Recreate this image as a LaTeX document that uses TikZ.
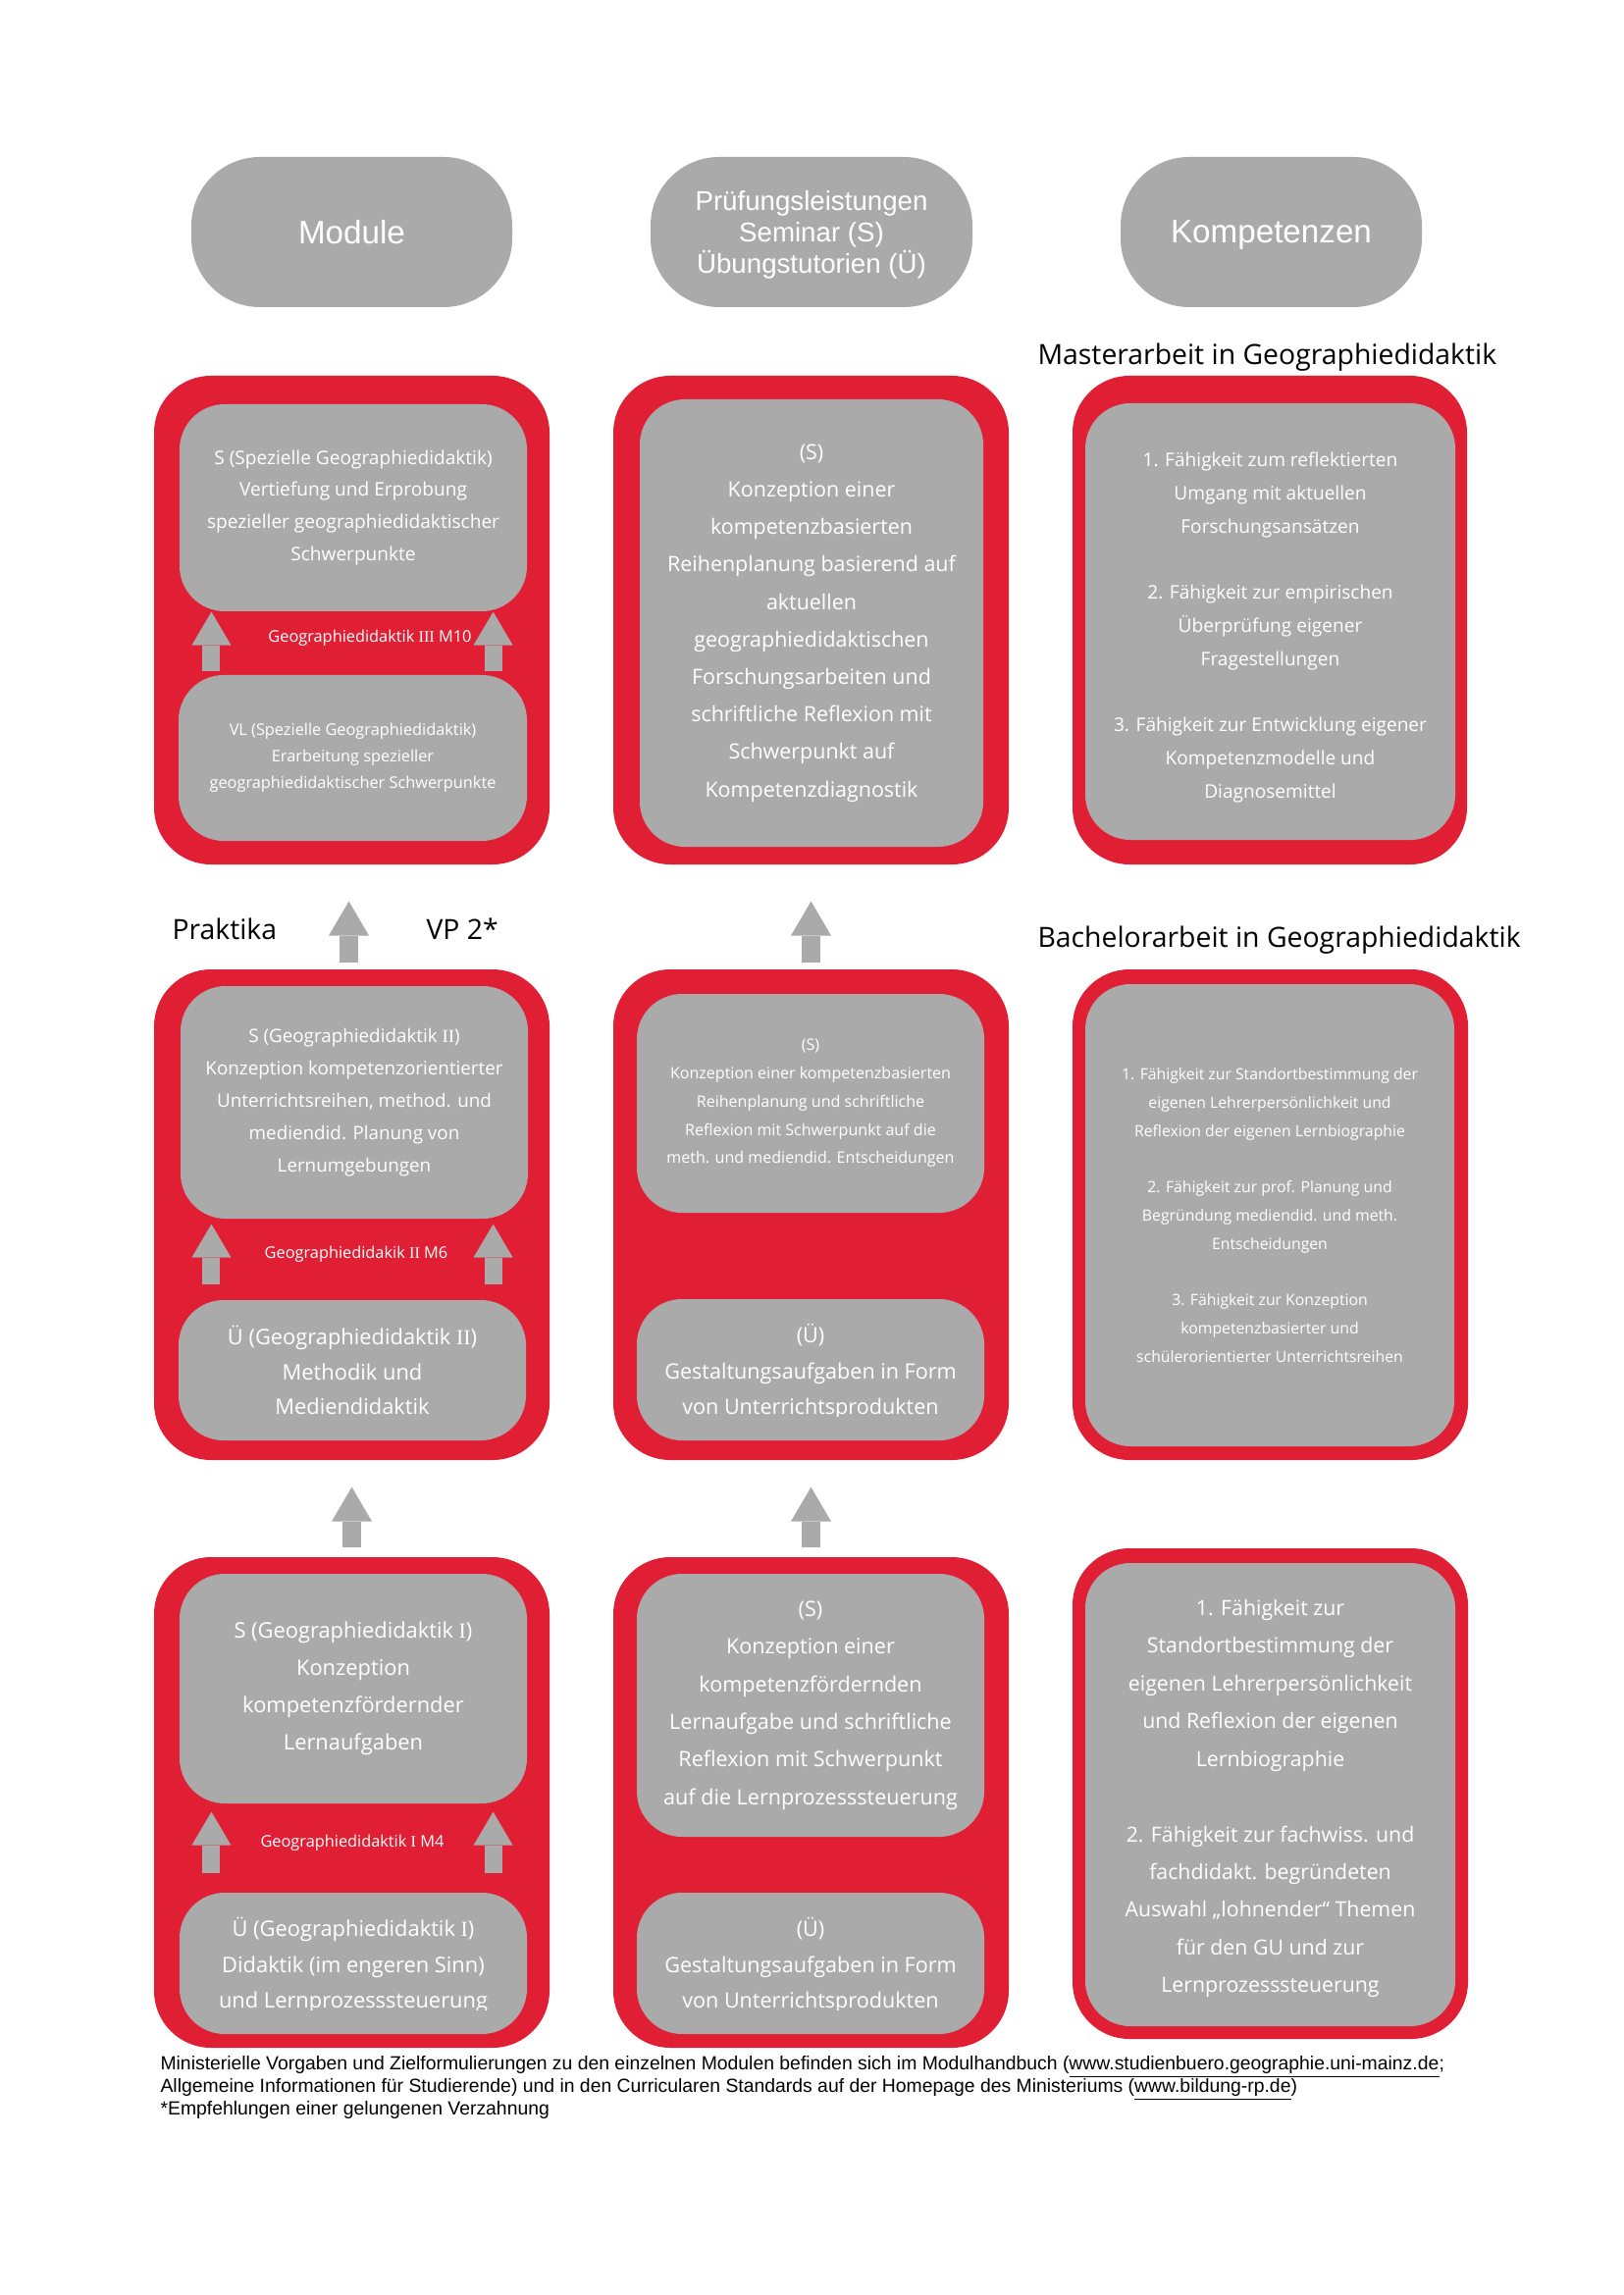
\documentclass[tikz,border=0pt]{standalone}
\usepackage{fontspec}
\setmainfont{Open Sans}
\newfontfamily\arialfont{Liberation Sans}
\newfontfamily\rnfont{Liberation Serif}
\usetikzlibrary{arrows.meta,calc}
\definecolor{boxred}{RGB}{225,31,52}
\definecolor{boxgray}{RGB}{170,170,170}
\newdimen\pxu
\pxu=0.127mm
\newcommand\rn[1]{{\rnfont #1}}
\newcommand\fsz[2]{\fontsize{#1}{#2}\selectfont}
\tikzset{
  headbox/.style 2 args={fill=boxgray, rounded corners=70\pxu, minimum width=#1\pxu, minimum height=#2\pxu, inner sep=0pt, text depth=0pt, text=white, align=center, font=\arialfont\fsz{12}{14}},
  redbox/.style 2 args={fill=boxred, rounded corners=58\pxu, minimum width=#1\pxu, minimum height=#2\pxu, inner sep=0pt},
  graybox/.style 2 args={fill=boxgray, rounded corners=46\pxu, minimum width=#1\pxu, minimum height=#2\pxu, inner sep=0pt, text=white, align=center},
  boxtext/.style={inner sep=0pt, text=white, align=center},
  heading/.style={inner sep=0pt, text=black, font=\fsz{10.25}{12}},
  modlabel/.style={inner sep=0pt, text=white, font=\fsz{5.9}{7}},
  footline/.style={inner sep=0pt, anchor=base west, text=black, font=\arialfont\fsz{7}{8.2}},
  smallarrow/.style={draw=boxgray, line width=6.5pt, -{Triangle[width=14.46pt,length=12.29pt,line width=0pt]}},
  bigarrow/.style={draw=boxgray, line width=6.87pt, -{Triangle[width=14.82pt,length=12.65pt,line width=0pt]}},
}
\begin{document}
\begin{tikzpicture}[x=0.127mm,y=-0.127mm]
\fill[white] (0,0) rectangle (1654,2339);
\useasboundingbox (0,0) rectangle (1654,2339);

% headers
\node[headbox={327}{153}] (hmod) at (358.5,236.5) {Module};
\node[headbox={328}{153}, font=\arialfont\fsz{10}{11.5}] (hpruef) at (827,236.5) {Prüfungsleistungen\\Seminar (S)\\Übungstutorien (Ü)};
\node[headbox={307}{153}] (hkomp) at (1295.5,236.5) {Kompetenzen};

% headings
\node[heading, anchor=base west] (tmaster) at (1057,372) {Masterarbeit in Geographiedidaktik};
\node[heading, anchor=base west] (tbachelor) at (1057,965) {Bachelorarbeit in Geographiedidaktik};
\node[heading, anchor=base west] (prak) at (175,957) {Praktika};
\node[heading, anchor=base west] (vp) at (434,957) {VP 2*};

% red boxes
\node[redbox={403}{498}] (r1c1) at (358.5,632) {};
\node[redbox={403}{498}] (r1c2) at (826.5,632) {};
\node[redbox={402}{498}] (r1c3) at (1294,632) {};
\node[redbox={403}{500}] (r2c1) at (358.5,1238) {};
\node[redbox={403}{500}] (r2c2) at (826.5,1238) {};
\node[redbox={403}{500}] (r2c3) at (1294.5,1238) {};
\node[redbox={403}{500}] (r3c1) at (358.5,1837) {};
\node[redbox={403}{500}] (r3c2) at (826.5,1837) {};
\node[redbox={403}{500}] (r3c3) at (1294.5,1828) {};

% row 1
\node[graybox={354}{211}, font=\fsz{6.9}{11.9}] (r1c1u) at (360,517.5) {S (Spezielle Geographiedidaktik)\\Vertiefung und Erprobung\\spezieller geographiedidaktischer\\Schwerpunkte};
\node[graybox={355}{169}, font=\fsz{5.9}{9.7}] (r1c1l) at (359.5,772.5) {VL (Spezielle Geographiedidaktik)\\Erarbeitung spezieller\\geographiedidaktischer Schwerpunkte};
\node[graybox={350}{456}, font=\fsz{7.75}{13.8}] (r1c2s) at (827,635) {(S)\\Konzeption einer\\kompetenzbasierten\\Reihenplanung basierend auf\\aktuellen\\geographiedidaktischen\\Forschungsarbeiten und\\schriftliche Reflexion mit\\Schwerpunkt auf\\Kompetenzdiagnostik};
\node[graybox={377}{445}] (r1c3k) at (1294.5,633.5) {};
\node[boxtext, font=\fsz{6.9}{12.2}] (r1c3t) at ($(r1c3k.center)+(0,6)$) {1. Fähigkeit zum reflektierten\\Umgang mit aktuellen\\Forschungsansätzen\\[12.2pt]2. Fähigkeit zur empirischen\\Überprüfung eigener\\Fragestellungen\\[12.2pt]3. Fähigkeit zur Entwicklung eigener\\Kompetenzmodelle und\\Diagnosemittel};

% row 2
\node[graybox={354}{237}, font=\fsz{6.8}{11.9}] (r2c1u) at (361,1123.5) {S (Geographiedidaktik \rn{II})\\Konzeption kompetenzorientierter\\Unterrichtsreihen, method. und\\mediendid. Planung von\\Lernumgebungen};
\node[graybox={354}{143}, font=\fsz{7.9}{12.8}] (r2c1l) at (359,1396.5) {Ü (Geographiedidaktik \rn{II})\\Methodik und\\Mediendidaktik};
\node[graybox={354}{223}, font=\fsz{5.8}{10.4}] (r2c2u) at (826,1124.5) {(S)\\Konzeption einer kompetenzbasierten\\Reihenplanung und schriftliche\\Reflexion mit Schwerpunkt auf die\\meth. und mediendid. Entscheidungen};
\node[graybox={354}{144}] (r2c2l) at (826,1396) {};
\begin{scope}
\clip (649,1320) rectangle (1003,1443);
\node[boxtext, font=\fsz{7.8}{13.1}, text depth=0pt, anchor=south] (r2c2t) at ($(r2c2l.center)+(0,46)$) {(Ü)\\Gestaltungsaufgaben in Form\\von Unterrichtsprodukten};
\end{scope}
\node[graybox={376}{471}, font=\fsz{5.7}{10.4}] (r2c3k) at (1294,1238.5) {1. Fähigkeit zur Standortbestimmung der\\eigenen Lehrerpersönlichkeit und\\Reflexion der eigenen Lernbiographie\\[10.4pt]2. Fähigkeit zur prof. Planung und\\Begründung mediendid. und meth.\\Entscheidungen\\[10.4pt]3. Fähigkeit zur Konzeption\\kompetenzbasierter und\\schülerorientierter Unterrichtsreihen};

% row 3
\node[graybox={354}{234}, font=\fsz{7.9}{13.7}] (r3c1u) at (360,1721) {S (Geographiedidaktik \rn{I})\\Konzeption\\kompetenzfördernder\\Lernaufgaben};
\node[graybox={354}{144}] (r3c1l) at (360,2001) {};
\begin{scope}
\clip (183,1925) rectangle (537,2048);
\node[boxtext, font=\fsz{7.9}{13.1}, text depth=0pt, anchor=south] (r3c1t) at ($(r3c1l.center)+(0,46)$) {Ü (Geographiedidaktik \rn{I})\\Didaktik (im engeren Sinn)\\und Lernprozesssteuerung};
\end{scope}
\node[graybox={354}{268}, font=\fsz{7.8}{13.9}] (r3c2u) at (826,1738) {(S)\\Konzeption einer\\kompetenzfördernden\\Lernaufgabe und schriftliche\\Reflexion mit Schwerpunkt\\auf die Lernprozesssteuerung};
\node[graybox={354}{144}] (r3c2l) at (826,2001) {};
\begin{scope}
\clip (649,1925) rectangle (1003,2048);
\node[boxtext, font=\fsz{7.8}{13.1}, text depth=0pt, anchor=south] (r3c2t) at ($(r3c2l.center)+(0,46)$) {(Ü)\\Gestaltungsaufgaben in Form\\von Unterrichtsprodukten};
\end{scope}
\node[graybox={377}{472}] (r3c3k) at (1294.5,1829) {};
\node[boxtext, font=\fsz{7.7}{13.9}] (r3c3t) at ($(r3c3k.center)+(0,4)$) {1. Fähigkeit zur\\Standortbestimmung der\\eigenen Lehrerpersönlichkeit\\und Reflexion der eigenen\\Lernbiographie\\[13.9pt]2. Fähigkeit zur fachwiss. und\\fachdidakt. begründeten\\Auswahl „lohnender“ Themen\\für den GU und zur\\Lernprozesssteuerung};

% module labels
\node[modlabel] (m10) at (377,650) {Geographiedidaktik \rn{III} M10};
\node[modlabel] (m6) at (363,1278) {Geographiedidakik \rn{II} M6};
\node[modlabel] (m4) at (359,1878) {Geographiedidaktik \rn{I} M4};

% inner arrows
\coordinate (a1l) at ($(r1c1l.north west)+(34,-3)$);
\coordinate (a1r) at ($(r1c1l.north east)+(-35,-3)$);
\draw[smallarrow] (a1l) -- (a1l |- r1c1u.south);
\draw[smallarrow] (a1r) -- (a1r |- r1c1u.south);
\coordinate (a2l) at ($(r2c1l.north west)+(34,-15)$);
\coordinate (a2r) at ($(r2c1l.north east)+(-34,-15)$);
\draw[smallarrow, shorten >=1.81pt] (a2l) -- (a2l |- r2c1u.south);
\draw[smallarrow, shorten >=1.81pt] (a2r) -- (a2r |- r2c1u.south);
\coordinate (a3l) at ($(r3c1l.north west)+(33,-19)$);
\coordinate (a3r) at ($(r3c1l.north east)+(-35,-19)$);
\draw[smallarrow, shorten >=2.89pt] (a3l) -- (a3l |- r3c1u.south);
\draw[smallarrow, shorten >=2.89pt] (a3r) -- (a3r |- r3c1u.south);

% arrows between rows
\coordinate (b1) at ($(r2c1.north)+(-3,-6)$);
\coordinate (b2) at ($(r2c2.north)+(0,-6)$);
\draw[bigarrow, shorten >=13.37pt] (b1) -- (b1 |- r1c1.south);
\draw[bigarrow, shorten >=13.37pt] (b2) -- (b2 |- r1c2.south);
\coordinate (b3) at ($(r3c1.north)+(0,-9)$);
\coordinate (b4) at ($(r3c2.north)+(0,-9)$);
\draw[bigarrow, shorten >=9.76pt] (b3) -- (b3 |- r2c1.south);
\draw[bigarrow, shorten >=9.76pt] (b4) -- (b4 |- r2c2.south);

% footer
\node[footline] (f1) at (163,2109) {Ministerielle Vorgaben und Zielformulierungen zu den einzelnen Modulen befinden sich im Modulhandbuch (\underline{www.studienbuero.geographie.uni-mainz.de};};
\node[footline] (f2) at (163,2132) {Allgemeine Informationen für Studierende) und in den Curricularen Standards auf der Homepage des Ministeriums (\underline{www.bildung-rp.de})};
\node[footline] (f3) at (163,2155) {*Empfehlungen einer gelungenen Verzahnung};
\end{tikzpicture}
\end{document}
